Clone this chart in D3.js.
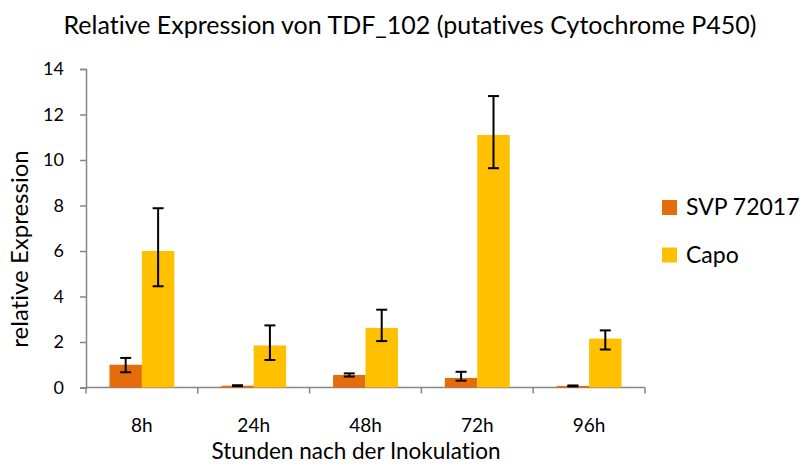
<!DOCTYPE html>
<html>
<head>
<meta charset="utf-8">
<script src="https://cdn.jsdelivr.net/npm/d3@7"></script>
<style>
  body { margin: 0; background: #fff; }
  text { font-family: Lato, "Open Sans", sans-serif; fill: #000; font-variant-ligatures: none; }
</style>
</head>
<body>
<div id="chart"></div>
<script>
// data
const categories = ["8h", "24h", "48h", "72h", "96h"];
const seriesNames = ["SVP 72017", "Capo"];
const svpValues = [1.0, 0.08, 0.55, 0.42, 0.07];
const svpErrUp = [0.3, 0.02, 0.07, 0.27, 0.02];
const svpErrDown = [0.33, 0.02, 0.07, 0.12, 0.02];
const capoValues = [6.0, 1.85, 2.62, 11.1, 2.15];
const capoErrUp = [1.88, 0.88, 0.8, 1.71, 0.36];
const capoErrDown = [1.55, 0.64, 0.58, 1.46, 0.48];
const yTicks = [0, 2, 4, 6, 8, 10, 12, 14];
const colours = ["#E46C0A", "#FFC000"];

const width = 804, height = 466;
const margin = {top: 69, right: 159, bottom: 78.5, left: 86};

const svg = d3.select("#chart").append("svg")
    .attr("width", width)
    .attr("height", height);

const x = d3.scaleBand()
    .domain(categories)
    .range([margin.left, width - margin.right])
    .paddingInner(0.42)
    .paddingOuter(0.21);

const xInner = d3.scaleBand()
    .domain(seriesNames)
    .range([0, x.bandwidth()]);

const y = d3.scaleLinear()
    .domain([0, 14])
    .range([height - margin.bottom, margin.top]);

const step = x.step();
const axisGray = "#868686";

// y axis
const yAxis = svg.append("g")
    .attr("transform", `translate(${margin.left},0)`)
    .call(d3.axisLeft(y).tickValues(yTicks).tickSize(6).tickPadding(16).tickFormat(d3.format("d")));
yAxis.select(".domain").attr("stroke", axisGray).attr("stroke-width", 1.5);
yAxis.selectAll(".tick line").attr("stroke", axisGray).attr("stroke-width", 1.5);
yAxis.selectAll(".tick text").style("font-size", "18px").attr("font-family", "Lato");

// x axis line and ticks at group boundaries
const xAxis = svg.append("g");
xAxis.append("line")
    .attr("x1", margin.left).attr("x2", width - margin.right)
    .attr("y1", y(0)).attr("y2", y(0))
    .attr("stroke", axisGray).attr("stroke-width", 1.5);
xAxis.selectAll("line.tk")
    .data(d3.range(categories.length + 1))
    .join("line")
    .attr("class", "tk")
    .attr("x1", i => margin.left + i * step)
    .attr("x2", i => margin.left + i * step)
    .attr("y1", y(0)).attr("y2", y(0) + 6)
    .attr("stroke", axisGray).attr("stroke-width", 1.5);
xAxis.selectAll("text")
    .data(categories)
    .join("text")
    .attr("x", d => x(d) + x.bandwidth() / 2)
    .attr("y", y(0) + 44)
    .attr("text-anchor", "middle")
    .style("font-size", "19px")
    .text(d => d);

// bars
const rows = categories.map((c, i) => ({
  cat: c,
  vals: [
    {s: seriesNames[0], v: svpValues[i], up: svpErrUp[i], dn: svpErrDown[i], c: colours[0]},
    {s: seriesNames[1], v: capoValues[i], up: capoErrUp[i], dn: capoErrDown[i], c: colours[1]}
  ]
}));

const groups = svg.append("g")
  .selectAll("g")
  .data(rows)
  .join("g")
    .attr("transform", d => `translate(${x(d.cat)},0)`);

groups.selectAll("rect")
  .data(d => d.vals)
  .join("rect")
    .attr("x", d => xInner(d.s))
    .attr("width", xInner.bandwidth())
    .attr("y", d => y(d.v))
    .attr("height", d => y(0) - y(d.v))
    .attr("fill", d => d.c);

// error bars
const err = groups.selectAll("g.err")
  .data(d => d.vals)
  .join("g")
    .attr("class", "err")
    .attr("stroke", "#000")
    .attr("stroke-width", 2);
err.append("line")
    .attr("x1", d => xInner(d.s) + xInner.bandwidth() / 2)
    .attr("x2", d => xInner(d.s) + xInner.bandwidth() / 2)
    .attr("y1", d => y(d.v + d.up))
    .attr("y2", d => y(Math.max(0, d.v - d.dn)));
err.selectAll("line.cap")
  .data(d => [d.v + d.up, Math.max(0, d.v - d.dn)].map(t => ({t, d})))
  .join("line")
    .attr("class", "cap")
    .attr("x1", o => xInner(o.d.s) + xInner.bandwidth() / 2 - 5.5)
    .attr("x2", o => xInner(o.d.s) + xInner.bandwidth() / 2 + 5.5)
    .attr("y1", o => y(o.t))
    .attr("y2", o => y(o.t));

// title
svg.append("text")
    .attr("x", 410)
    .attr("y", 34)
    .attr("text-anchor", "middle")
    .style("font-size", "25px")
    .text("Relative Expression von TDF_102 (putatives Cytochrome P450)");

// axis titles
svg.append("text")
    .attr("x", 356)
    .attr("y", 459)
    .attr("text-anchor", "middle")
    .style("font-size", "22.5px")
    .text("Stunden nach der Inokulation");

svg.append("text")
    .attr("transform", `translate(28,249) rotate(-90)`)
    .attr("text-anchor", "middle")
    .style("font-size", "24px")
    .text("relative Expression");

// legend
const legend = svg.append("g")
  .selectAll("g")
  .data(seriesNames)
  .join("g")
    .attr("transform", (d, i) => `translate(662,${200 + i * 47.5})`);
legend.append("rect")
    .attr("width", 15).attr("height", 15)
    .attr("fill", (d, i) => colours[i]);
legend.append("text")
    .attr("x", 24)
    .attr("y", 15)
    .style("font-size", "23px")
    .text(d => d);
</script>
</body>
</html>
